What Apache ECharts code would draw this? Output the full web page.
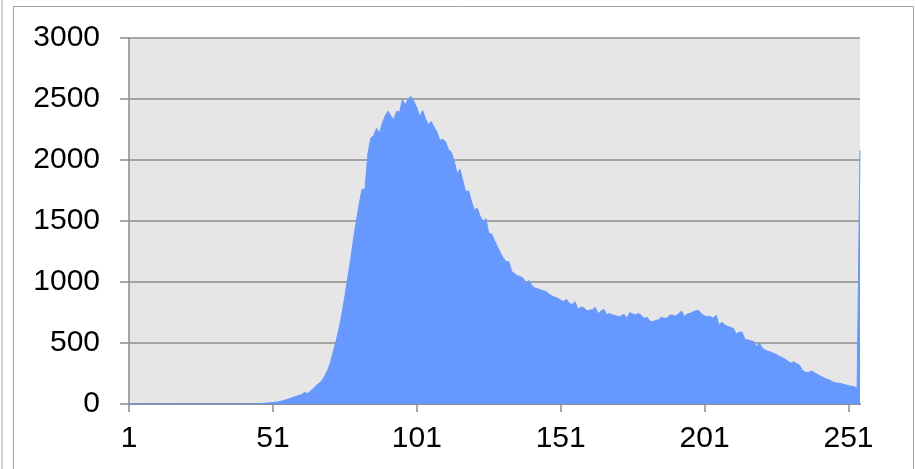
<!DOCTYPE html>
<html>
<head>
<meta charset="utf-8">
<script src="https://cdn.jsdelivr.net/npm/echarts@6/dist/echarts.min.js"></script>
<style>
html,body{margin:0;padding:0;background:#fff;}
#chart{width:915px;height:469px;}
</style>
</head>
<body>
<div id="chart"></div>
<script>
// categories 1..255
var categories = [];
for (var c = 1; c <= 255; c++) categories.push(String(c));

// histogram counts, indices 1..255
var zerosLeading = [0,0,0,0,0,0,0,0,0,0,0,0,0,0,0,0,0,0,0,0,0,0,0,0,0,0,0,0,0,0,0,0,0,0,0,0,0,0,0,0,0,0,0,0]; // 1..44
var rise = [2,4,5,6,8,10,12,15,19,24,30,38,45,55,62,70,78,95,85,105,125,150,170,190,230,275,340,430,520,620,740,880,1030,1180,1350,1500,1640,1760,1760]; // 45..83
var peak = [2050,2180,2200,2260,2220,2300,2360,2400,2360,2330,2400,2390,2495,2450,2500,2520,2480,2430,2355,2405,2340,2290,2315,2270,2230,2160,2170,2150,2085,2065,1990,1890,1925,1830,1740,1748,1660,1590,1605,1540,1495,1520,1400,1393,1340,1290,1240,1200,1167,1165]; // 84..133
var middle = [1085,1070,1050,1045,1030,990,1012,970,950,945,935,928,920,900,885,875,866,850,840,858,825,815,838,775,795,790,765,768,772,792,740,760,776,732,742,730,725,716,722,735,702,749,738,730,743,725,702,711,678,675,685,690,712,702,705,730,725,721,740,762,716,738,743,755,765,766,735,721,718,716,702,728]; // 134..205
var tail = [648,670,650,636,628,620,574,588,590,530,525,519,512,470,502,460,443,432,425,415,405,390,380,367,350,334,347,330,318,275,262,257,270,260,245,232,220,208,200,188,176,172,170,163,156,150,146,142,128,2080]; // 206..255
var counts = zerosLeading.concat(rise, peak, middle, tail);

var yTicks = [0, 500, 1000, 1500, 2000, 2500, 3000];

var chart = echarts.init(document.getElementById('chart'), null, {renderer: 'canvas'});
var FONT = '"Liberation Sans", Arial, sans-serif';
chart.setOption({
  animation: false,
  backgroundColor: '#ffffff',
  graphic: [
    {type: 'line', shape: {x1: 2, y1: 0, x2: 2, y2: 469}, style: {stroke: '#a0a0a0', lineWidth: 1}},
    {type: 'rect', shape: {x: 13.5, y: 6.5, width: 900, height: 480}, style: {fill: 'none', stroke: '#a0a0a0', lineWidth: 1}}
  ],
  grid: {
    left: 129, right: 55, top: 38, bottom: 65,
    show: true, backgroundColor: '#e6e6e6', borderWidth: 0
  },
  xAxis: {
    type: 'category',
    data: categories,
    boundaryGap: false,
    axisLine: {show: true, lineStyle: {color: '#8c8c8c', width: 2}},
    axisTick: {show: true, interval: 49, length: 8, lineStyle: {color: '#8c8c8c', width: 1.5}},
    axisLabel: {interval: 49, color: '#000', fontSize: 30, fontFamily: FONT, margin: 20},
    splitLine: {show: false}
  },
  yAxis: {
    type: 'value',
    min: yTicks[0], max: yTicks[yTicks.length - 1], interval: 500,
    axisLine: {show: true, lineStyle: {color: '#8c8c8c', width: 1.5}},
    axisTick: {show: true, length: 9, lineStyle: {color: '#8c8c8c', width: 1.5}},
    axisLabel: {color: '#000', fontSize: 30, fontFamily: FONT, margin: 29,
      formatter: function (v) { return String(v); }},
    splitLine: {show: true, lineStyle: {color: '#8c8c8c', width: 1.5}}
  },
  series: [{
    type: 'line',
    data: counts,
    symbol: 'none',
    lineStyle: {color: '#6699ff', width: 1},
    areaStyle: {color: '#6699ff', opacity: 1},
    z: 3
  }]
});
</script>
</body>
</html>
